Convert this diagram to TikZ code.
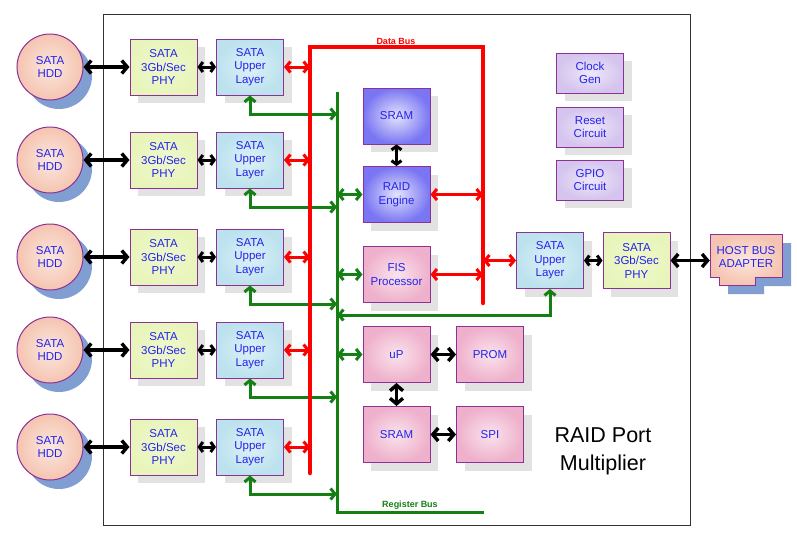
\documentclass[tikz,border=0pt]{standalone}
\usepackage{fontspec}
\setmainfont{Liberation Sans}
\usetikzlibrary{arrows.meta,shadows,calc}
\definecolor{txtblue}{RGB}{35,35,235}
\definecolor{bord}{RGB}{140,50,150}
\definecolor{phyfill}{RGB}{232,245,186}
\definecolor{ulfill}{RGB}{188,226,238}
\definecolor{blueout}{RGB}{122,118,243}
\definecolor{pinkout}{RGB}{239,176,203}
\definecolor{lavout}{RGB}{212,196,238}
\definecolor{hddout}{RGB}{245,196,176}
\definecolor{hddshadow}{RGB}{128,158,210}
\definecolor{busred}{RGB}{255,0,0}
\definecolor{busgreen}{RGB}{20,128,20}
\definecolor{shadowgray}{RGB}{226,226,226}
\tikzset{
  box/.style={draw=bord, line width=1pt, minimum width=67pt, minimum height=56pt,
    inner sep=0pt, align=center, text=txtblue,
    font=\fontsize{11.5}{13.5}\selectfont,
    drop shadow={shadow xshift=8pt, shadow yshift=-8pt, fill=shadowgray, opacity=1}},
  phybox/.style={box, inner color=phyfill!70!white, outer color=phyfill},
  ulbox/.style={box, inner color=ulfill!50!white, outer color=ulfill},
  bluebox/.style={box, inner color=blueout!20!white, outer color=blueout},
  pinkbox/.style={box, inner color=pinkout!35!white, outer color=pinkout},
  lavbox/.style={box, minimum height=40pt, inner color=lavout!40!white, outer color=lavout},
  hdd/.style={circle, draw=bord, line width=1pt, minimum size=66pt, inner sep=0pt,
    align=center, text=txtblue, font=\fontsize{11.5}{13.5}\selectfont,
    inner color=hddout!40!white, outer color=hddout,
    drop shadow={shadow xshift=9pt, shadow yshift=-9pt, fill=hddshadow, opacity=1}},
  barrow/.style={draw=black, line width=3.4pt,
    {Straight Barb[length=5.5pt,width=13pt]}-{Straight Barb[length=5.5pt,width=13pt]}},
  sbarrow/.style={draw=black, line width=3pt,
    {Straight Barb[length=3.5pt,width=10pt]}-{Straight Barb[length=3.5pt,width=10pt]}},
  rarrow/.style={draw=busred, line width=3pt,
    {Straight Barb[length=4.5pt,width=11pt]}-{Straight Barb[length=4.5pt,width=11pt]}},
  garrow/.style={draw=busgreen, line width=3pt,
    {Straight Barb[length=4.5pt,width=11pt]}-{Straight Barb[length=4.5pt,width=11pt]}},
  redbus/.style={draw=busred, line width=4.5pt},
  greenbus/.style={draw=busgreen, line width=3pt},
  buslabel/.style={font=\fontsize{9}{10}\bfseries, inner sep=0pt},
}
\begin{document}
\begin{tikzpicture}[x=1pt,y=-1pt]
\useasboundingbox (0,0) rectangle (797,536);
\draw[line width=0.9pt, draw=black!80] (103,14) rectangle (690,525);

% bus reference coordinates
\coordinate (rb) at (310,0);
\coordinate (rbR) at (483,0);
\coordinate (gb) at (337,0);
\coordinate (gtop) at (337,92);
\coordinate (gbot) at (337,512);
\coordinate (gend) at (484,512);
\coordinate (rtl) at (310,47);
\coordinate (rtr) at (483,47);
\coordinate (rbl) at (310,473);
\coordinate (rbr) at (483,303);

% central blocks
\node[bluebox] (sram) at (396.5,116) {SRAM};
\node[bluebox] (raid) at (396.5,194.5) {RAID\\Engine};
\node[pinkbox] (fis) at (396.5,274.5) {FIS\\Processor};
\node[pinkbox] (up) at (396.5,354.5) {uP};
\node[pinkbox] (prom) at (490,354.5) {PROM};
\node[pinkbox] (sram2) at (396.5,434.5) {SRAM};
\node[pinkbox] (spi) at (490,434.5) {SPI};
\node[lavbox] (clk) at (590,73) {Clock\\Gen};
\node[lavbox] (rst) at (590,127) {Reset\\Circuit};
\node[lavbox] (gpio) at (590,180) {GPIO\\Circuit};

% right side
\node[ulbox] (rul) at (550,260.5) {SATA\\Upper\\Layer};
\node[phybox] (rphy) at (636.5,260.5) {SATA\\3Gb/Sec\\PHY};

% host bus adapter
\begin{scope}[shift={(9,9)}]
\fill[hddshadow] (710,234) -- (782,234) -- (782,277) -- (755,277) -- (755,285)
  -- (719,285) -- (719,277) -- (710,277) -- cycle;
\end{scope}
\shade[inner color=hddout!40!white, outer color=hddout, draw=bord, line width=1pt]
  (710,234) -- (782,234) -- (782,277) -- (755,277) -- (755,285)
  -- (719,285) -- (719,277) -- (710,277) -- cycle;
\node[minimum width=72pt, minimum height=43pt, inner sep=0pt, align=center, text=txtblue,
  font=\fontsize{11.5}{13.5}\selectfont] (hba) at (746,257) {HOST BUS\\ADAPTER};

% green bus
\draw[greenbus] (gtop) -- (gbot) -- (gend);

% rows
\foreach \i/\y in {1/67,2/160,3/257,4/350,5/447} {
  \node[hdd] (hdd\i) at (50,\y) {SATA\\HDD};
  \node[phybox] (phy\i) at (163.5,\y) {SATA\\3Gb/Sec\\PHY};
  \node[ulbox] (ul\i) at (250,\y) {SATA\\Upper\\Layer};
  \draw[barrow] (hdd\i) -- (phy\i);
  \draw[sbarrow] (phy\i) -- (ul\i);
  \coordinate (g\i) at (337,\y+47);
  \draw[garrow] (ul\i.south) |- (g\i);
  \draw[rarrow] (ul\i.east) -- (ul\i.east -| rb);
}

% green connections to central blocks
\draw[garrow] (raid.west -| gb) -- (raid.west);
\draw[garrow] (fis.west -| gb) -- (fis.west);
\draw[garrow] (up.west -| gb) -- (up.west);
\coordinate (gr) at (337,315);
\draw[garrow] (rul.south) |- (gr);

% red bus
\draw[redbus, line cap=round] (rbl) -- (rtl) -- (rtr) -- (rbr);
\draw[rarrow] (raid.east) -- (raid.east -| rbR);
\draw[rarrow] (fis.east) -- (fis.east -| rbR);
\draw[rarrow] (rul.west -| rbR) -- (rul.west);

% black arrows
\draw[sbarrow] (sram) -- (raid);
\draw[barrow] (up) -- (prom);
\draw[barrow] (up) -- (sram2);
\draw[barrow] (sram2) -- (spi);
\draw[sbarrow] (rul) -- (rphy);
\draw[barrow] (rphy.east) -- (rphy.east -| hba.west);

% labels
\node[buslabel, text=busred] (dblabel) at (396,41) {Data Bus};
\node[buslabel, text=busgreen] (rblabel) at (410,505) {Register Bus};
\node[align=center, font=\fontsize{21.5}{28}\selectfont, inner sep=0pt] (title) at (603,451) {RAID Port\\Multiplier};
\end{tikzpicture}
\end{document}
